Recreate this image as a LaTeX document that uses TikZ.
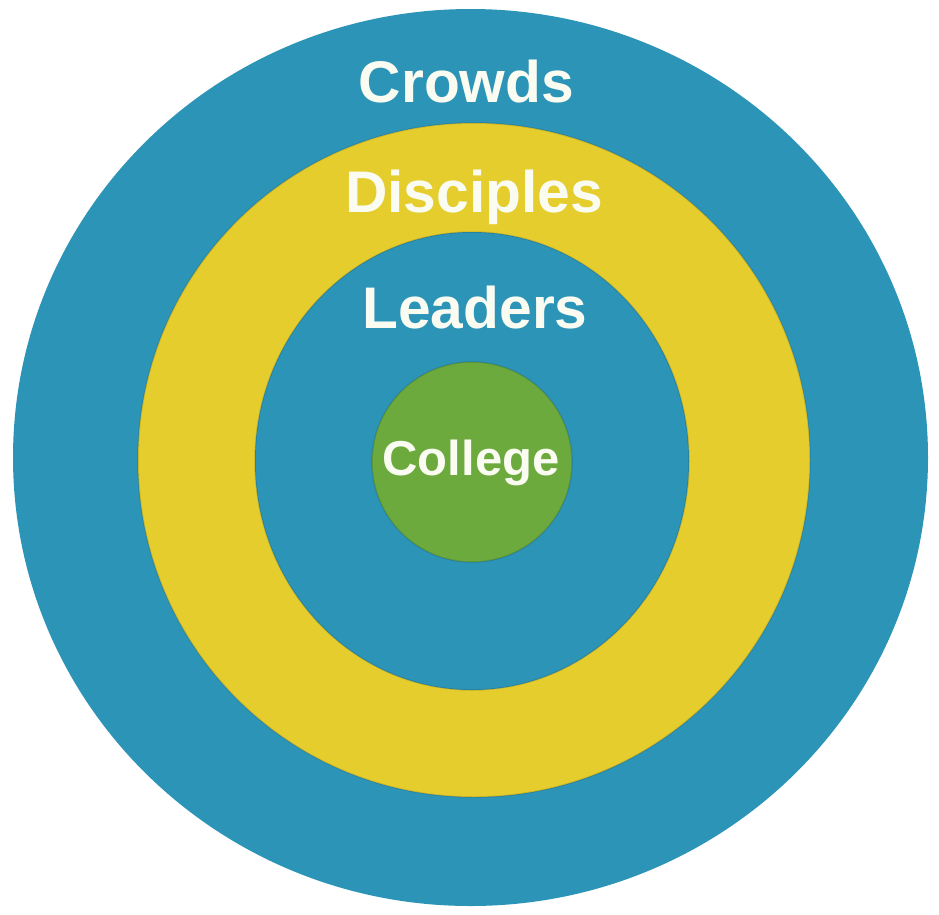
\documentclass[tikz,border=0pt]{standalone}
\usepackage{fontspec}
\setmainfont{Liberation Sans}
\definecolor{ringblue}{RGB}{44,148,183}
\definecolor{ringyellow}{RGB}{229,205,46}
\definecolor{ringgreen}{RGB}{108,170,62}
\definecolor{labelwhite}{RGB}{250,252,242}
\begin{document}
\begin{tikzpicture}[x=1pt,y=-1pt,
  ring/.style={line width=1.5pt, draw=black, draw opacity=0.12},
  lbl/.style={anchor=base, inner sep=0pt, text=labelwhite, font=\bfseries\fontsize{58.7}{60}\selectfont},
  lblsmall/.style={lbl, font=\bfseries\fontsize{49}{50}\selectfont}]
\useasboundingbox (0,0) rectangle (939,914);
\fill[white] (0,0) rectangle (939,914);
% rings
\fill[ringblue] (470.5,457.5) ellipse [x radius=457.5, y radius=448.5];
\fill[ringyellow, ring] (474,460) ellipse [x radius=336, y radius=337];
\fill[ringblue, ring] (472,461) ellipse [x radius=217, y radius=229];
\fill[ringgreen, ring] (472,462) circle [radius=100];
% labels
\node[lbl] (crowds) at (466.5,102) {Crowds};
\node[lbl] (disciples) at (474,212) {Disciples};
\node[lbl] (leaders) at (475,328) {Leaders};
\node[lblsmall] (college) at (471,475) {College};
\end{tikzpicture}
\end{document}
